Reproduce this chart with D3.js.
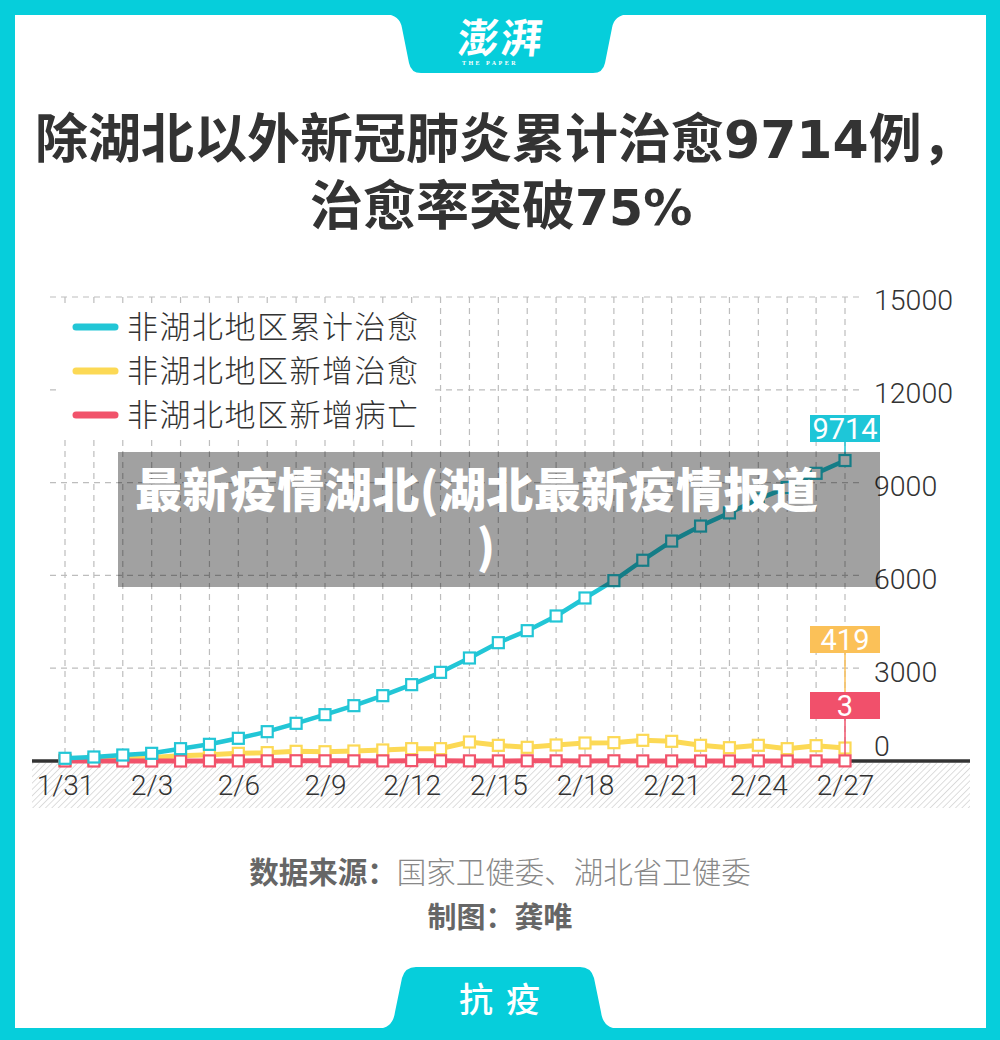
<!DOCTYPE html>
<html>
<head>
<meta charset="utf-8">
<script src="https://cdn.jsdelivr.net/npm/d3@7"></script>
<style>
  html, body { margin: 0; padding: 0; background: #fff; }
  svg { display: block; }
  text { font-family: "Noto Sans CJK SC", "Noto Sans", sans-serif; }
</style>
</head>
<body>
<svg id="chart" width="1000" height="1040"></svg>
<script>
// ---------- data ----------
const dates = ["1/31","2/1","2/2","2/3","2/4","2/5","2/6","2/7","2/8","2/9","2/10","2/11","2/12","2/13",
               "2/14","2/15","2/16","2/17","2/18","2/19","2/20","2/21","2/22","2/23","2/24","2/25","2/26","2/27"];
const cumCured = [87,129,194,248,399,539,733,948,1218,1498,1789,2112,2468,2866,
                  3330,3825,4213,4688,5270,5830,6490,7110,7595,8020,8470,8840,9300,9714];
const newCured = [30,45,65,110,172,205,248,270,313,300,323,356,399,399,
                  614,506,442,517,582,593,668,636,507,431,507,399,496,419];
const newDeaths = [1,0,1,0,0,3,4,5,8,6,5,3,12,5,4,3,5,5,4,6,3,3,1,1,3,0,3,3];
const yTicks = [0,3000,6000,9000,12000,15000];
const xTickEvery = 3;
const seriesNames = ["非湖北地区累计治愈","非湖北地区新增治愈","非湖北地区新增病亡"];
const titleParts1 = ["除湖北以外新冠肺炎累计治愈","9714","例，"];
const titleParts2 = ["治愈率突破","75%"];
const overlayLines = ["最新疫情湖北(湖北最新疫情报道",")"];

// ---------- styles ----------
const CYAN = "#22c6d6", YELLOW = "#fcd955", RED = "#f1536b";
const FRAME = "#06cedb";

const svg = d3.select("#chart");

// frame
svg.append("rect").attr("x",0).attr("y",0).attr("width",1000).attr("height",1040).attr("fill",FRAME);
svg.append("rect").attr("x",15).attr("y",15).attr("width",971).attr("height",1013).attr("fill","#fff");
// top tab
svg.append("path").attr("fill",FRAME)
  .attr("d","M 385 14 Q 400 15 402 28 L 409 63 Q 411 73 421 73 L 593 73 Q 603 73 605 63 L 612 28 Q 614 15 629 14 Z");
svg.append("text").attr("x",500).attr("y",53).attr("text-anchor","middle")
  .attr("fill","#fff").attr("font-size",41).attr("font-weight",700)
  .attr("transform","skewX(-6) translate(5,0)")
  .attr("letter-spacing",2).text("澎湃");
svg.append("text").attr("x",490).attr("y",65).attr("text-anchor","middle")
  .attr("fill","#fff").attr("font-size",6).attr("font-weight",700)
  .attr("letter-spacing",2.5).style("font-family","'Liberation Serif', serif").text("THE PAPER");
// bottom tab
svg.append("path").attr("fill",FRAME)
  .attr("d","M 378 1029 Q 393 1028 395 1012 L 402 978 Q 405 967 416 967 L 580 967 Q 591 967 594 978 L 601 1012 Q 603 1028 618 1029 Z");
svg.append("text").attr("x",506).attr("y",1012).attr("text-anchor","middle")
  .attr("fill","#fff").attr("font-size",34).attr("font-weight",500)
  .attr("letter-spacing",13).text("抗疫");

// title
const t1 = svg.append("text").attr("x",35).attr("y",158).attr("fill","#333")
  .attr("font-size",53).attr("font-weight",700);
t1.append("tspan").text(titleParts1[0]);
t1.append("tspan").style("font-family","'DejaVu Sans', sans-serif").attr("font-size",52).text(titleParts1[1]);
t1.append("tspan").text(titleParts1[2]);
const t2 = svg.append("text").attr("x",310).attr("y",225).attr("fill","#333")
  .attr("font-size",53).attr("font-weight",700);
t2.append("tspan").text(titleParts2[0]);
t2.append("tspan").style("font-family","'DejaVu Sans', sans-serif").attr("font-size",49).text(titleParts2[1]);

// ---------- scales ----------
const x = d3.scaleLinear().domain([0, dates.length - 1]).range([65, 845]);
const y = d3.scaleLinear().domain([0, 15000]).range([761, 297]);

// hatch pattern
const defs = svg.append("defs");
const pat = defs.append("pattern").attr("id","hatch").attr("patternUnits","userSpaceOnUse")
  .attr("width",4.5).attr("height",4.5).attr("patternTransform","rotate(45)");
pat.append("rect").attr("width",4.5).attr("height",4.5).attr("fill","#fff");
pat.append("line").attr("x1",0).attr("y1",0).attr("x2",0).attr("y2",4.5)
  .attr("stroke","#d6d6d6").attr("stroke-width",1.6);
svg.append("rect").attr("x",32).attr("y",763).attr("width",938).attr("height",45).attr("fill","url(#hatch)");

// grid
const grid = svg.append("g");
grid.selectAll("line.h").data(yTicks.filter(d => d > 0)).join("line")
  .attr("x1",50).attr("x2",860).attr("y1",d => y(d)).attr("y2",d => y(d))
  .attr("stroke","#bdbdbd").attr("stroke-width",1.2).attr("stroke-dasharray","6,5");
grid.selectAll("line.v").data(dates).join("line")
  .attr("x1",(d,i) => x(i)).attr("x2",(d,i) => x(i)).attr("y1",y(15000)).attr("y2",y(0))
  .attr("stroke","#bdbdbd").attr("stroke-width",1.2).attr("stroke-dasharray","6,5");

// y axis labels (right)
const yAxis = d3.axisRight(y).tickValues(yTicks).tickSize(0).tickPadding(0).tickFormat(d3.format("d"));
const gy = svg.append("g").attr("transform","translate(874,0)").call(yAxis);
gy.select(".domain").remove();
gy.selectAll("text").attr("font-size",28.5).attr("fill","#333").attr("font-weight",300)
  .style("font-family","Roboto, 'Noto Sans', sans-serif")
  .attr("dy", d => d === 0 ? "-0.2em" : "0.45em");

// x axis labels
const xAxis = d3.axisBottom(x).tickValues(d3.range(0, dates.length, xTickEvery))
  .tickSize(0).tickPadding(0).tickFormat(i => dates[i]);
const gx = svg.append("g").attr("transform","translate(0,795)").call(xAxis);
gx.select(".domain").remove();
gx.selectAll("text").attr("font-size",28).attr("fill","#333").attr("font-weight",300)
  .style("font-family","Roboto, 'Noto Sans', sans-serif").attr("dy",0);

// baseline
svg.append("line").attr("x1",32).attr("x2",970).attr("y1",761).attr("y2",761)
  .attr("stroke","#333").attr("stroke-width",3.5);

// ---------- series ----------
const line = d3.line().x((d,i) => x(i)).y(d => y(d));
function drawSeries(values, color, width) {
  const g = svg.append("g");
  g.append("path").datum(values).attr("d", line).attr("fill","none")
    .attr("stroke", color).attr("stroke-width", width).attr("stroke-linejoin","round");
  g.selectAll("rect").data(values).join("rect")
    .attr("x",(d,i) => x(i) - 5.5).attr("y", d => y(d) - 5.5)
    .attr("width",11).attr("height",11)
    .attr("fill","#fff").attr("stroke",color).attr("stroke-width",2.2);
}
drawSeries(newCured, YELLOW, 5);
drawSeries(newDeaths, RED, 5);
drawSeries(cumCured, CYAN, 4.5);

// end labels
const last = dates.length - 1;
function endLabel(val, color, boxTop, lineColor, lineToY) {
  svg.append("line").attr("x1",x(last)).attr("x2",x(last)).attr("y1",boxTop + 27).attr("y2",lineToY)
    .attr("stroke",lineColor).attr("stroke-width",1.5);
  svg.append("rect").attr("x",x(last) - 35).attr("y",boxTop).attr("width",70).attr("height",27).attr("fill",color);
  svg.append("text").attr("x",x(last)).attr("y",boxTop + 24).attr("text-anchor","middle")
    .attr("fill","#fff").attr("font-size",29).attr("font-weight",400)
    .style("font-family","Roboto, 'Noto Sans', sans-serif").text(val);
}
endLabel(cumCured[last], "#1ec6d8", 415, CYAN, y(cumCured[last]) - 5);
endLabel(newCured[last], "#fbc158", 626, "#fbc158", 692);
endLabel(newDeaths[last], "#f1506b", 692, RED, y(newDeaths[last]) - 5);

// legend
const lg = svg.append("g");
lg.append("rect").attr("x",60).attr("y",303).attr("width",372).attr("height",137).attr("fill","#fff");
const legendColors = [CYAN, YELLOW, RED];
const legendY = [327, 371, 415];
seriesNames.forEach((name, i) => {
  lg.append("line").attr("x1",76).attr("x2",115).attr("y1",legendY[i]).attr("y2",legendY[i])
    .attr("stroke",legendColors[i]).attr("stroke-width",7).attr("stroke-linecap","round");
  lg.append("text").attr("x",127).attr("y",legendY[i] + 11).attr("fill","#333")
    .attr("font-size",31).attr("font-weight",300)
    .attr("textLength",291).attr("lengthAdjust","spacing").text(name);
});

// footer
const f1 = svg.append("text").attr("x",500).attr("y",883).attr("text-anchor","middle").attr("font-size",29.5);
f1.append("tspan").attr("fill","#666").attr("font-weight",700).text("数据来源：");
f1.append("tspan").attr("fill","#888").attr("font-weight",300).text("国家卫健委、湖北省卫健委");
svg.append("text").attr("x",500).attr("y",928).attr("text-anchor","middle").attr("font-size",29)
  .attr("fill","#666").attr("font-weight",700).text("制图：龚唯");

// overlay
svg.append("rect").attr("x",118).attr("y",452).attr("width",762).attr("height",135).attr("fill","rgba(0,0,0,0.37)");
svg.append("text").attr("x",135).attr("y",507).attr("fill","#fff")
  .attr("font-size",47).attr("font-weight",900)
  .attr("textLength",683).attr("lengthAdjust","spacing").text(overlayLines[0]);
svg.append("text").attr("x",486).attr("y",564).attr("text-anchor","middle").attr("fill","#fff")
  .attr("font-size",46).attr("font-weight",900).text(overlayLines[1]);
</script>
</body>
</html>
